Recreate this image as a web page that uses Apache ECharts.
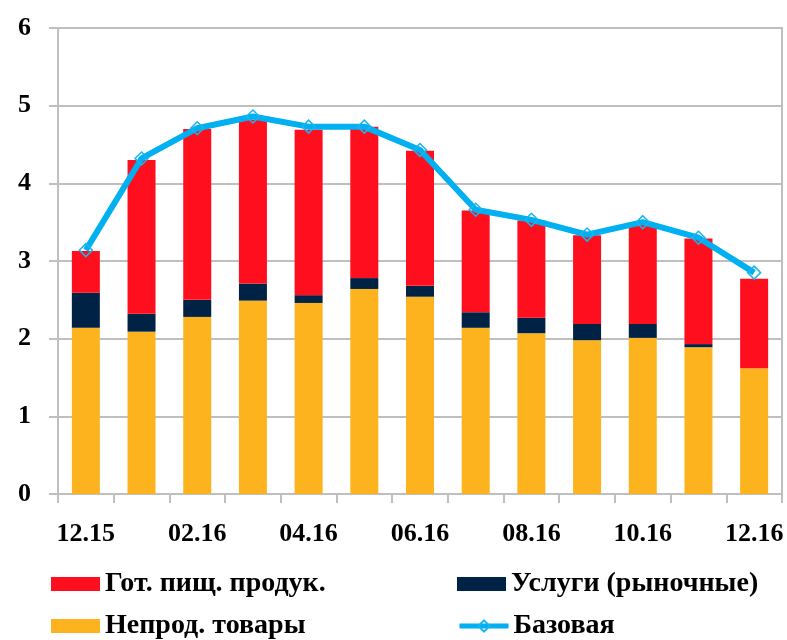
<!DOCTYPE html>
<html>
<head>
<meta charset="utf-8">
<script src="https://cdn.jsdelivr.net/npm/echarts@6/dist/echarts.min.js"></script>
<style>
  html, body { margin: 0; padding: 0; background: #fff; }
  #chart { width: 787px; height: 640px; }
</style>
</head>
<body>
<div id="chart"></div>
<script>
var months = ['12.15', '01.16', '02.16', '03.16', '04.16', '05.16', '06.16',
              '07.16', '08.16', '09.16', '10.16', '11.16', '12.16'];
// stacked components
var nonFood = [2.14, 2.09, 2.28, 2.49, 2.46, 2.64, 2.54, 2.14, 2.07, 1.98, 2.01, 1.89, 1.62];
var services = [0.45, 0.23, 0.22, 0.22, 0.10, 0.14, 0.14, 0.20, 0.20, 0.21, 0.18, 0.04, 0.00];
var food = [0.54, 1.98, 2.20, 2.11, 2.13, 1.95, 1.74, 1.31, 1.25, 1.14, 1.30, 1.36, 1.15];
var core = [3.14, 4.32, 4.71, 4.86, 4.73, 4.73, 4.43, 3.66, 3.53, 3.34, 3.50, 3.30, 2.85];

var names = ['Гот. пищ. продук.', 'Услуги (рыночные)', 'Непрод. товары', 'Базовая'];

var font = 'Liberation Serif';
var grey = '#bfbfbf';

function legendAt(name, left, top, icon) {
    var l = {
        data: [name],
        left: left,
        top: top,
        padding: 0,
        itemWidth: 49,
        itemHeight: 14,
        itemGap: 0,
        textStyle: { fontFamily: font, fontWeight: 'bold', fontSize: 28, color: '#000' }
    };
    if (icon) l.icon = icon;
    else l.lineStyle = { width: 5 };
    return l;
}

var myChart = echarts.init(document.getElementById('chart'));
var option = {
    animation: false,
    grid: {
        left: 58, right: 5, top: 28, bottom: 146,
        show: true, borderColor: grey, borderWidth: 2
    },
    legend: [
        legendAt(names[0], 51, 570, 'rect'),
        legendAt(names[1], 457, 570, 'rect'),
        legendAt(names[2], 51, 612, 'rect'),
        legendAt(names[3], 457, 612)
    ],
    xAxis: {
        type: 'category',
        data: months,
        axisLine: { lineStyle: { color: grey, width: 2 } },
        axisTick: { show: true, interval: 0, length: 9, lineStyle: { color: grey, width: 2 } },
        axisLabel: {
            interval: 1,
            margin: 27,
            fontFamily: font, fontWeight: 'bold', fontSize: 26, color: '#000'
        }
    },
    yAxis: {
        type: 'value',
        min: 0, max: 6, interval: 1,
        axisLine: { show: true, lineStyle: { color: grey, width: 2 } },
        axisTick: { show: true, length: 9, lineStyle: { color: grey, width: 2 } },
        splitLine: { lineStyle: { color: grey, width: 2 } },
        axisLabel: { margin: 27, fontFamily: font, fontWeight: 'bold', fontSize: 26, color: '#000' }
    },
    series: [
        {
            name: names[2], type: 'bar', stack: 'c', data: nonFood,
            barWidth: 28, itemStyle: { color: '#fdb31e' }
        },
        {
            name: names[1], type: 'bar', stack: 'c', data: services,
            barWidth: 28, itemStyle: { color: '#002245' }
        },
        {
            name: names[0], type: 'bar', stack: 'c', data: food,
            barWidth: 28, itemStyle: { color: '#ff0f1e' }
        },
        {
            name: names[3], type: 'line', data: core,
            symbol: 'diamond', symbolSize: 13,
            lineStyle: { color: '#00b0f0', width: 6 },
            itemStyle: { color: 'rgba(255,255,255,0)', borderColor: '#1ab4ee', borderWidth: 1.5 },
            z: 5
        }
    ]
};
myChart.setOption(option);
</script>
</body>
</html>
